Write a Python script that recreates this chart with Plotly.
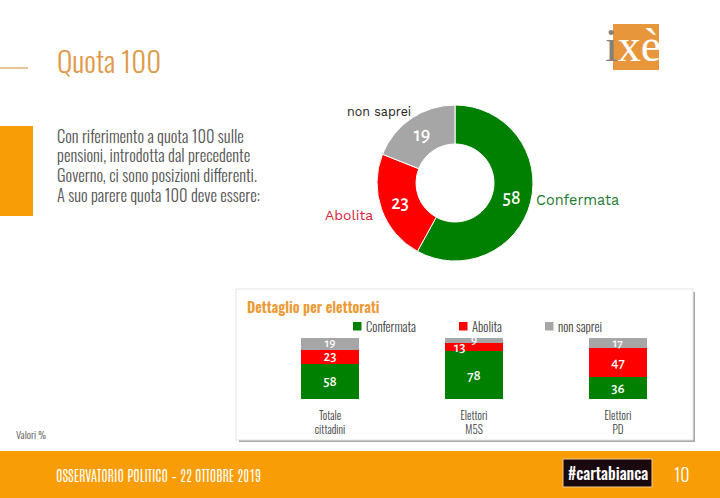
import plotly.graph_objects as go

W, H = 720, 498

# Data
donut_labels = ["Confermata", "Abolita", "non saprei"]
donut_values = [58, 23, 19]
categories = ["Totale<br>cittadini", "Elettori<br>M5S", "Elettori<br>PD"]
confermata = [58, 78, 36]
abolita = [23, 13, 47]
non_saprei = [19, 9, 17]
body_lines = [
    "Con riferimento a quota 100 sulle",
    "pensioni, introdotta dal precedente",
    "Governo, ci sono posizioni differenti.",
    "A suo parere quota 100 deve essere:",
]

GREEN, RED, GREY = "#008000", "#FF0000", "#A6A6A6"
ORANGE = "#F99D07"
TAN = "#E09A4B"
NARROW = "Oswald"
WIDE = "Work Sans"
NUM = "Alegreya Sans"


def px(x):
    return x / W


def py(y):
    return 1 - y / H


def rect(x0, y0, x1, y1, color, line=None):
    return dict(type="rect", xref="paper", yref="paper", x0=px(x0), x1=px(x1), y0=py(y0), y1=py(y1),
                fillcolor=color, line=dict(width=0 if line is None else 1, color=line or color), layer="below")


def label(x, y, text, size, color, font=NARROW, anchor="left", weight=300):
    return dict(xref="paper", yref="paper", x=px(x), y=py(y), text=text, showarrow=False, xanchor=anchor,
                yanchor="middle", align="left", font=dict(family=font, size=size, color=color, weight=weight))


fig = go.Figure()

fig.add_trace(go.Pie(
    labels=donut_labels, values=donut_values, hole=0.5, sort=False, direction="clockwise", rotation=0,
    domain=dict(x=[px(377), px(533)], y=[py(261), py(105)]),
    marker=dict(colors=[GREEN, RED, GREY], line=dict(color="white", width=1)),
    textinfo="value", textposition="inside", insidetextorientation="horizontal",
    textfont=dict(family=NUM, size=20, color="white", weight=500), showlegend=False,
))

series = [("Confermata", confermata, GREEN), ("Abolita", abolita, RED), ("non saprei", non_saprei, GREY)]
for name, vals, col in series:
    texts = [str(v) for v in vals]
    sizes = [15, 15, 15]
    if name == "Abolita":
        texts[1] = ""
    if name == "non saprei":
        sizes = [13, 13, 13]
    fig.add_trace(go.Bar(
        x=categories, y=vals, name=name, marker=dict(color=col, line=dict(width=0)), width=0.4,
        text=texts, textposition="inside", insidetextanchor="middle", textangle=0, constraintext="none",
        insidetextfont=dict(family=NUM, size=sizes, color="white", weight=500),
        showlegend=False,
    ))

layout_shapes = [
    rect(0, 451, 720, 498, ORANGE),
    rect(0, 126, 33, 216, ORANGE),
    dict(type="line", xref="paper", yref="paper", x0=0, x1=px(28), y0=py(68), y1=py(68), line=dict(color=TAN, width=1.2), layer="below"),
    rect(239, 292, 695, 442, "#A9A9A9"),
    rect(236, 289, 693, 440, "white", "#E4E4E4"),
    rect(563, 459, 652, 487, "#1A0A10", "#F4C98A"),
    rect(613, 24, 659, 70, "#E8963C"),
]

annots = [
    label(55, 60, "Quota 100", 29, TAN),
    label(14, 434, "Valori %", 10.5, "#555555"),
    label(54, 474, "OSSERVATORIO POLITICO – 22 OTTOBRE 2019", 14.3, "white", "Antonio", weight=300),
    label(607.5, 473, "#cartabianca", 16, "white", anchor="center", weight=500),
    label(682, 474, "10", 18, "white", anchor="center", weight=300),
    label(245, 306, "Dettaglio per elettorati", 14.4, "#EE9A34", weight=600),
    label(345, 111, "non saprei", 12.5, "#222222", WIDE, weight=400),
    label(323, 215, "Abolita", 14, "#D8213A", WIDE, weight=400),
    label(534, 200, "Confermata", 14.5, "#1F7A33", WIDE, weight=400),
    label(603, 45, "<span style='color:#7F7F85'>i</span>xè", 46, "white", "Liberation Serif", weight=400),
]
# Legend: swatch and name for each series
swatch_x = [353, 459, 545]
for (name, _, col), sx in zip(series, swatch_x):
    layout_shapes.append(rect(sx, 322, sx + 8.5, 330.5, col))
    annots.append(label(sx + 10.5, 326, name, 12.7, "#404040"))

for k, line in enumerate(body_lines):
    annots.append(label(54.5, 135 + k * 19.8, line, 16.5, "#555555"))
annots.append(dict(xref="x", yref="y", x=categories[1], y=confermata[1] + abolita[1] / 2, xshift=-14, text=str(abolita[1]),
                   showarrow=False, font=dict(family=NUM, size=15, color="white", weight=500)))

fig.update_layout(
    width=W, height=H, margin=dict(l=0, r=0, t=0, b=0), autosize=False,
    paper_bgcolor="white", plot_bgcolor="rgba(0,0,0,0)", barmode="stack", uniformtext=dict(mode=False),
    xaxis=dict(domain=[px(258), px(690)], showgrid=False, zeroline=False, showline=False, ticks="",
               tickfont=dict(family=NARROW, size=11, color="#404040", weight=300), ticklabelstandoff=9, fixedrange=True),
    yaxis=dict(domain=[py(399), py(338)], range=[0, 100], visible=False, fixedrange=True),
    shapes=layout_shapes, annotations=annots,
)

fig.write_html("out.html", post_script="document.body.style.margin='0';", config=dict(displayModeBar=False))
